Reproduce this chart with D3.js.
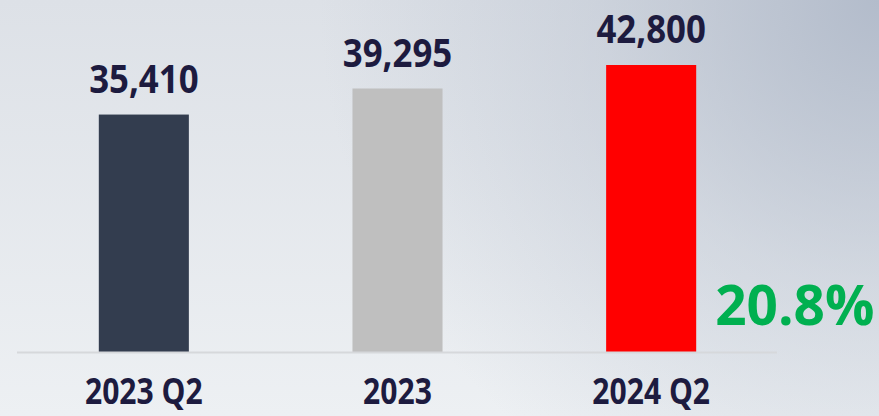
<!DOCTYPE html>
<html>
<head>
<meta charset="utf-8">
<script src="https://cdn.jsdelivr.net/npm/d3@7"></script>
<style>
    html, body { margin: 0; padding: 0; overflow: hidden; }
    body { width: 879px; height: 416px; }
    text { font-family: "Open Sans", "Noto Sans", sans-serif; font-weight: 700; }
</style>
</head>
<body>
<div id="chart"></div>
<script>
// Bar chart: three periods plus growth callout
const categories = ["2023 Q2", "2023", "2024 Q2"];
const values = [35410, 39295, 42800];
const barColors = ["#333d4f", "#bfbfbf", "#ff0000"];
const growthLabel = "20.8%";

const width = 879;
const height = 416;
const baseline = 352;
const textColor = "#1d1b3f";

const svg = d3.select("#chart")
    .append("svg")
    .attr("width", width)
    .attr("height", height);

// Background: light base with a darker blue-gray glow in the top right
const defs = svg.append("defs");
const base = defs.append("linearGradient")
    .attr("id", "bg-base")
    .attr("x1", 0).attr("y1", 0).attr("x2", 0).attr("y2", 1);
base.append("stop").attr("offset", 0).attr("stop-color", "#dde1e7");
base.append("stop").attr("offset", 1).attr("stop-color", "#edf0f3");

const glow = defs.append("radialGradient")
    .attr("id", "bg-glow")
    .attr("gradientUnits", "userSpaceOnUse")
    .attr("cx", width).attr("cy", 0).attr("r", 560);
glow.append("stop").attr("offset", 0).attr("stop-color", "#b3bccb").attr("stop-opacity", 1);
glow.append("stop").attr("offset", 0.5).attr("stop-color", "#b3bccb").attr("stop-opacity", 0.4);
glow.append("stop").attr("offset", 1).attr("stop-color", "#b3bccb").attr("stop-opacity", 0);

svg.append("rect").attr("width", width).attr("height", height).attr("fill", "url(#bg-base)");
svg.append("rect").attr("width", width).attr("height", height).attr("fill", "url(#bg-glow)");

const x = d3.scaleBand()
    .domain(categories)
    .range([17, 778])
    .paddingInner(0.645)
    .paddingOuter(0.3225);

const y = d3.scaleLinear()
    .domain([0, d3.max(values)])
    .range([baseline, 65]);

const data = categories.map((c, i) => ({ cat: c, value: values[i], color: barColors[i] }));

// Bars
svg.selectAll(".bar")
    .data(data)
    .enter()
    .append("rect")
    .attr("class", "bar")
    .attr("x", d => x(d.cat))
    .attr("y", d => y(d.value))
    .attr("width", x.bandwidth())
    .attr("height", d => baseline - y(d.value))
    .attr("fill", d => d.color);

// Baseline
svg.append("line")
    .attr("x1", x.range()[0])
    .attr("x2", x.range()[1] - 1)
    .attr("y1", baseline + 0.5)
    .attr("y2", baseline + 0.5)
    .attr("stroke", "#d6d8db")
    .attr("stroke-width", 2);

// Value labels (narrowed to mimic a condensed face)
svg.selectAll(".value-label")
    .data(data)
    .enter()
    .append("text")
    .attr("class", "value-label")
    .attr("transform", d => `translate(${x(d.cat) + x.bandwidth() / 2},${y(d.value) - 22}) scale(0.87,1)`)
    .attr("text-anchor", "middle")
    .attr("font-size", 40)
    .attr("fill", textColor)
    .text(d => d3.format(",")(d.value));

// Category labels, kept just inside the bottom edge
svg.selectAll(".cat-label")
    .data(data)
    .enter()
    .append("text")
    .attr("class", "cat-label")
    .attr("transform", d => `translate(${x(d.cat) + x.bandwidth() / 2},404) scale(0.86,1)`)
    .attr("text-anchor", "middle")
    .attr("font-size", 35)
    .attr("fill", textColor)
    .text(d => d.cat);

// Growth callout next to the last bar
const last = data[data.length - 1];
svg.append("text")
    .attr("transform", `translate(${x(last.cat) + x.bandwidth() + 19},325) scale(0.98,1)`)
    .attr("text-anchor", "start")
    .attr("font-size", 56)
    .attr("fill", "#00b050")
    .text(growthLabel);
</script>
</body>
</html>
